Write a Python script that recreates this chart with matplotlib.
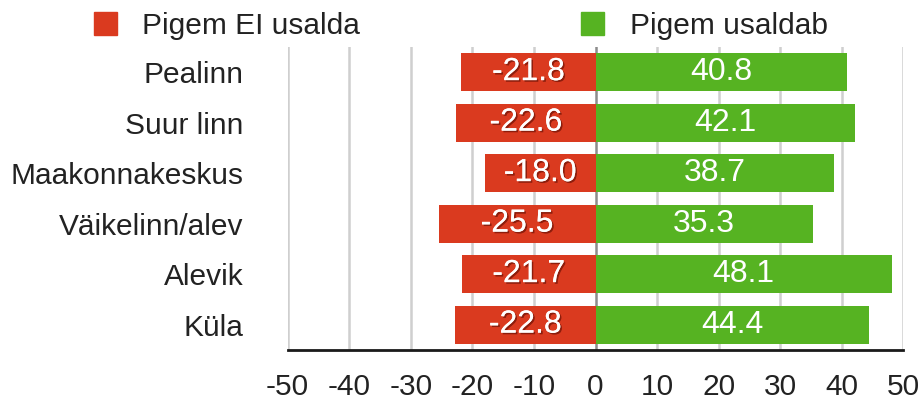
import matplotlib.pyplot as plt
import matplotlib.patheffects as pe
from matplotlib.patches import Patch
import numpy as np

categories = ["Pealinn", "Suur linn", "Maakonnakeskus", "Väikelinn/alev", "Alevik", "Küla"]
distrust = [-21.8, -22.6, -18.0, -25.5, -21.7, -22.8]
trust = [40.8, 42.1, 38.7, 35.3, 48.1, 44.4]
series_names = ["Pigem EI usalda", "Pigem usaldab"]
xticks = [-50, -40, -30, -20, -10, 0, 10, 20, 30, 40, 50]
xtick_labels = ["-50", "-40", "-30", "-20", "-10", "0", "10", "20", "30", "40", "50"]

RED = "#da3a1f"
GREEN = "#56b322"
TEXT = "#222222"

plt.rcParams["font.family"] = ["Liberation Sans", "DejaVu Sans"]

fig = plt.figure(figsize=(9.19, 4.04), dpi=100)
ax = fig.add_axes([0.313, 0.134, 0.670, 0.750])

y = np.arange(len(categories))
ax.barh(y, distrust, height=0.75, color=RED, zorder=3)
ax.barh(y, trust, height=0.75, color=GREEN, zorder=3)

# white values, the red side gets a dark drop shadow
shadow = [pe.withSimplePatchShadow(offset=(1.2, -1.2), shadow_rgbFace="#5a0a00", alpha=0.6), pe.Normal()]
for yi, v in zip(y, distrust):
    ax.text(v / 2, yi, f"{v:.1f}", ha="center", va="center", color="white",
            fontsize=23, zorder=4, path_effects=shadow)
for yi, v in zip(y, trust):
    ax.text(v / 2, yi, f"{v:.1f}", ha="center", va="center", color="white",
            fontsize=23, zorder=4)

ax.set_xlim(-50, 50)
ax.set_ylim(len(categories) - 0.5, -0.5)
ax.set_xticks(xticks)
ax.set_xticklabels(xtick_labels)
ax.set_yticks(y)
ax.set_yticklabels(categories)
ax.tick_params(axis="x", length=0, pad=17, labelsize=21.5, labelcolor=TEXT)
ax.tick_params(axis="y", length=0, pad=32, labelsize=21.5, labelcolor=TEXT)

for t in xticks:
    ax.axvline(t, color="#8c8c8c" if t == 0 else "#cfcfcf", lw=1.8, zorder=1)

for s in ["top", "left", "right"]:
    ax.spines[s].set_visible(False)
ax.spines["bottom"].set_color("#1a1a1a")
ax.spines["bottom"].set_linewidth(2)
ax.spines["bottom"].set_zorder(5)

handles = [Patch(color=RED), Patch(color=GREEN)]
fig.legend(handles, series_names, loc="upper left", bbox_to_anchor=(94 / 919, 1 - 12 / 404),
           ncol=2, frameon=False, fontsize=21.5, handlelength=0.77, handleheight=0.77,
           handletextpad=0.85, columnspacing=7.4, borderpad=0, borderaxespad=0,
           labelcolor=TEXT)

fig.savefig("out.png", dpi=100)
